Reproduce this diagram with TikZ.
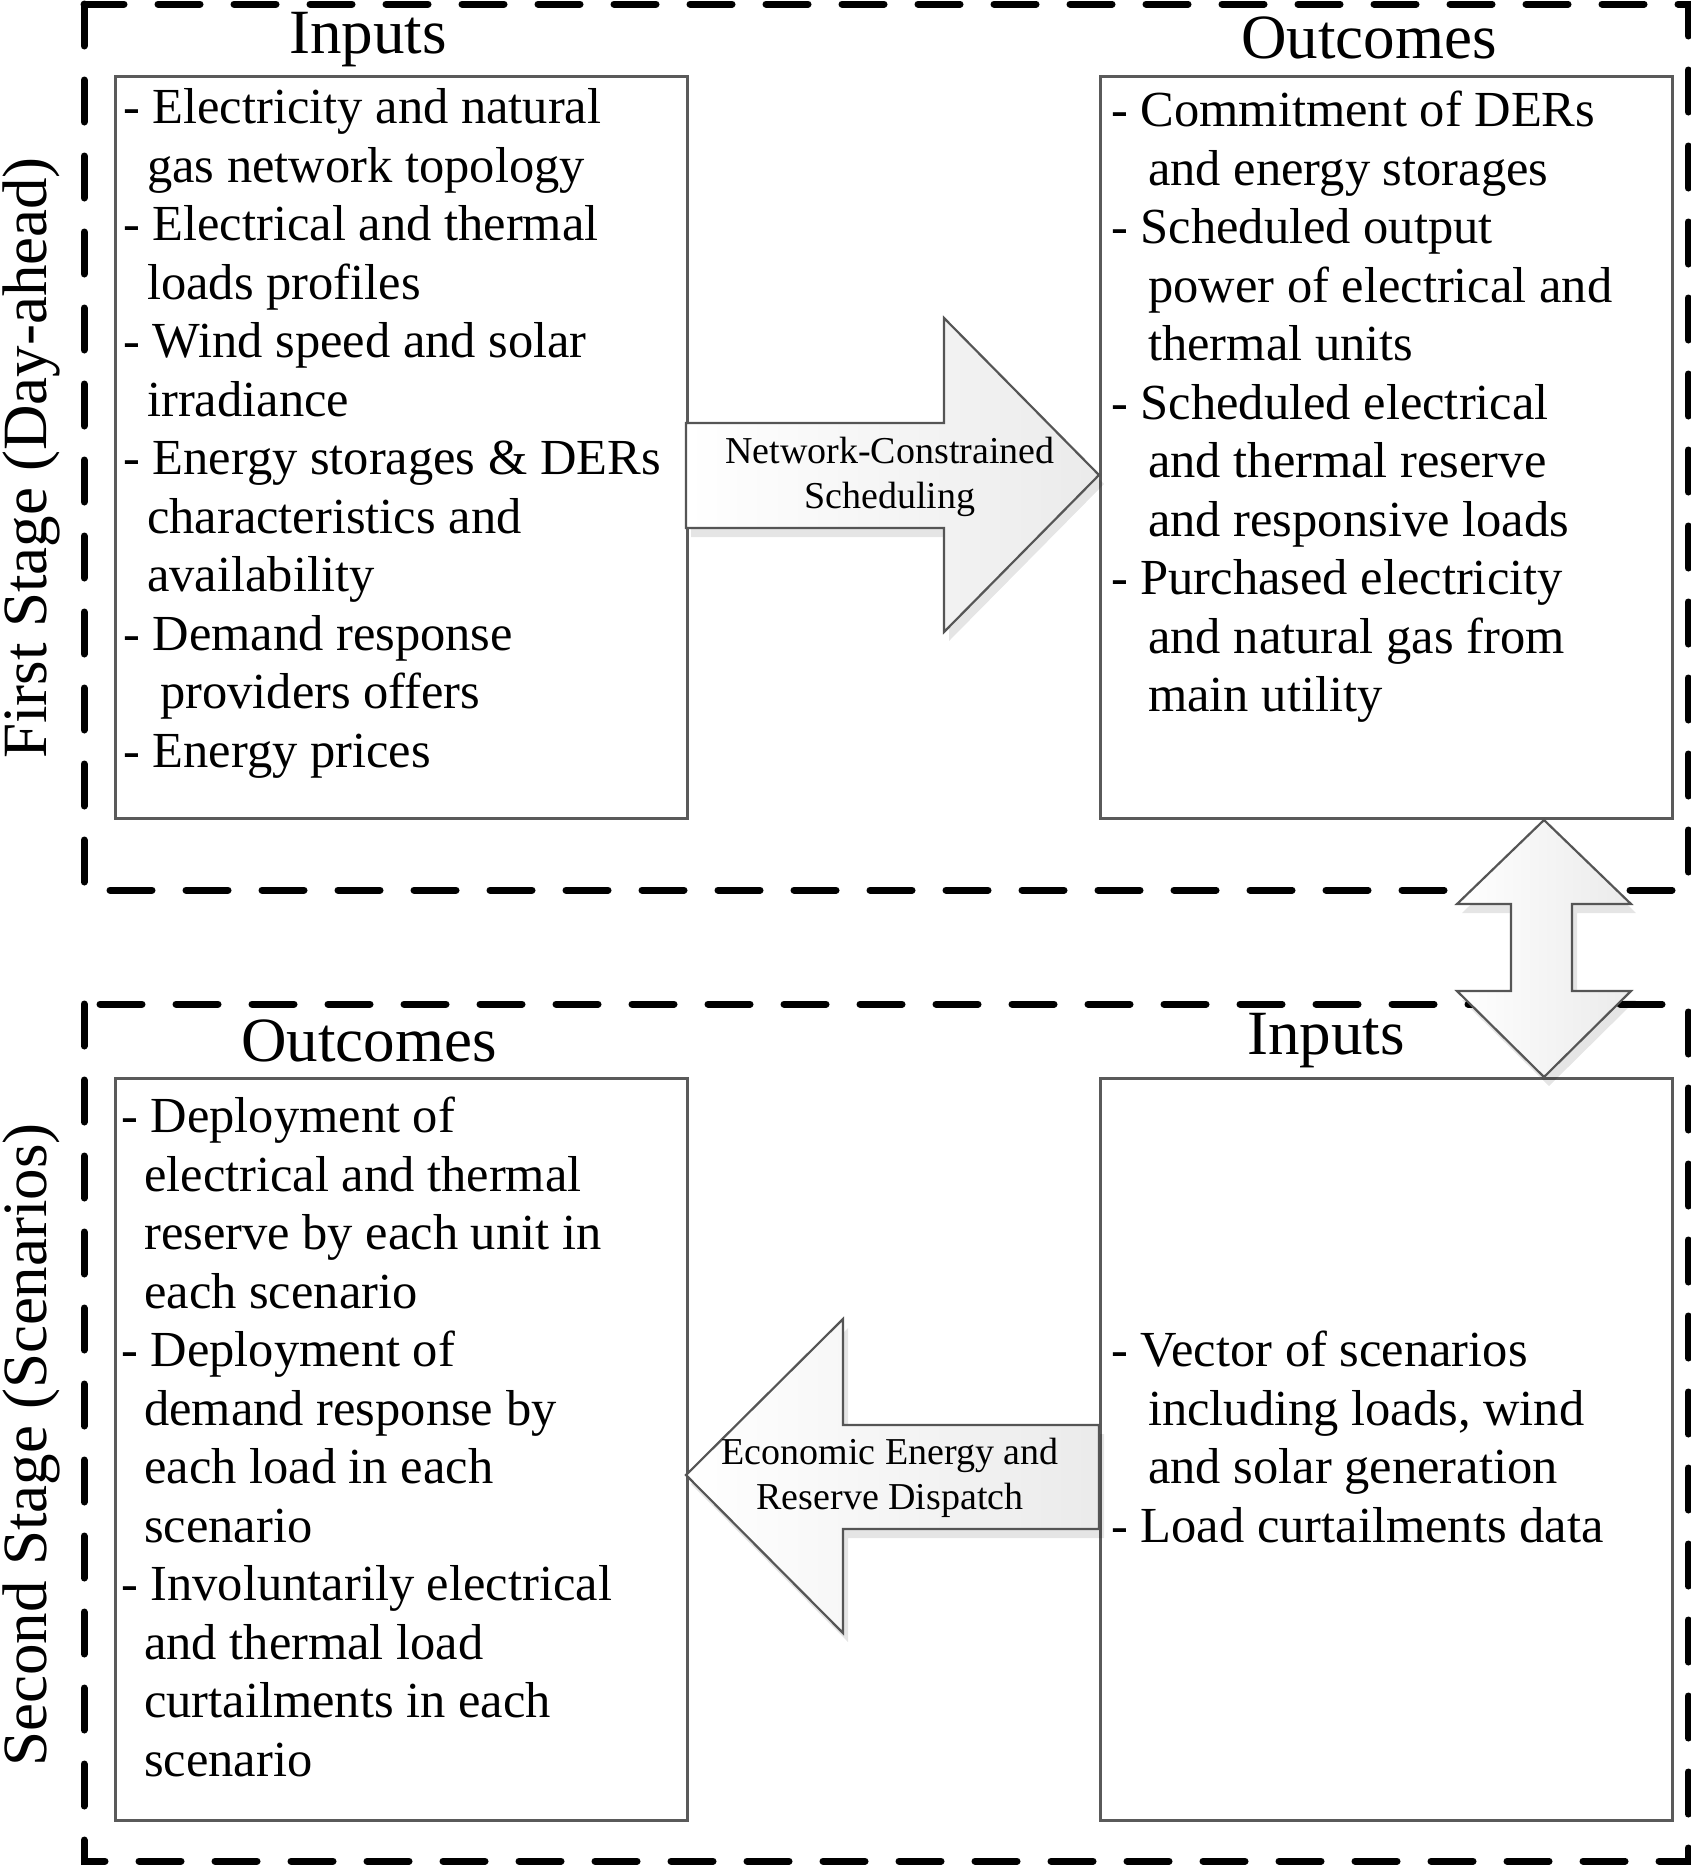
\documentclass[tikz,border=0pt]{standalone}
\usepackage{fontspec}
\setmainfont{Liberation Serif}
\usetikzlibrary{calc}
\definecolor{boxgray}{RGB}{90,90,90}
\definecolor{arrowgray}{RGB}{85,85,85}

\begin{document}
\begin{tikzpicture}[x=1pt,y=-1pt,
    stageframe/.style={line width=7pt,dash pattern=on 42pt off 34pt,line cap=round},
    listbox/.style={draw=boxgray,line width=2.5pt,fill=white,anchor=north west,
      minimum width=572pt,minimum height=742pt,inner sep=0},
    itemtext/.style={anchor=base west,inner sep=0,font=\fontsize{50.5}{58.5}\selectfont},
    boxtitle/.style={anchor=base,inner sep=0,font=\fontsize{63}{70}\selectfont},
    stagelabel/.style={anchor=base,inner sep=0,rotate=90,font=\fontsize{63}{70}\selectfont},
    blockarrow/.style={draw=arrowgray,line width=2.2pt,left color=white,right color=black!8},
    arrowshadow/.style={fill=black,opacity=.1},
    arrowlabel/.style={align=center,inner sep=0,font=\fontsize{38}{45}\selectfont}]
        \useasboundingbox (0,0) rectangle (1690,1866);
        % stages
        \draw[stageframe] (84,4) rectangle (1688,890);
        \draw[stageframe] (84,1004) rectangle (1688,1861);
        \node[stagelabel] (stage1) at (46,458) {First Stage (Day-ahead)};
        \node[stagelabel] (stage2) at (46,1445) {Second Stage (Scenarios)};
        % boxes and titles
        \node[listbox] (inT) at (114,75) {};
        \node[listbox] (outT) at (1099,75) {};
        \node[listbox] (outB) at (114,1077) {};
        \node[listbox] (inB) at (1099,1077) {};
        \node[boxtitle] (inTtitle) at (368,53) {Inputs};
        \node[boxtitle] (outTtitle) at (1369,58) {Outcomes};
        \node[boxtitle] (outBtitle) at (369,1061) {Outcomes};
        \node[boxtitle] (inBtitle) at (1326,1054) {Inputs};
        % lists
        \foreach \dx/\txt [count=\i] in {0/{- Electricity and natural},24/{gas network topology},
            0/{- Electrical and thermal},24/{loads profiles},0/{- Wind speed and solar},24/{irradiance},
            0/{- Energy storages \& DERs},24/{characteristics and},24/{availability},
            0/{- Demand response},37/{providers offers},0/{- Energy prices}}
          \node[itemtext] (inT-\i) at (123+\dx,123.5+58.5*\i-58.5) {\txt};
        \foreach \dx/\txt [count=\i] in {0/{- Commitment of DERs},37/{and energy storages},
            0/{- Scheduled output},37/{power of electrical and},37/{thermal units},
            0/{- Scheduled electrical},37/{and thermal reserve},37/{and responsive loads},
            0/{- Purchased electricity},37/{and natural gas from},37/{main utility}}
          \node[itemtext] (outT-\i) at (1111+\dx,126.5+58.5*\i-58.5) {\txt};
        \foreach \dx/\txt [count=\i] in {0/{- Deployment of},23/{electrical and thermal},
            23/{reserve by each unit in},23/{each scenario},0/{- Deployment of},
            23/{demand response by},23/{each load in each},23/{scenario},
            0/{- Involuntarily electrical},23/{and thermal load},23/{curtailments in each},23/{scenario}}
          \node[itemtext] (outB-\i) at (121+\dx,1132.5+58.5*\i-58.5) {\txt};
        \foreach \dx/\txt [count=\i] in {0/{- Vector of scenarios},37/{including loads, wind},
            37/{and solar generation},0/{- Load curtailments data}}
          \node[itemtext] (inB-\i) at (1111+\dx,1366.5+58.5*\i-58.5) {\txt};
        % block arrows
        \fill[arrowshadow,shift={(5,9)}] (686,423)--(944,423)--(944,318)--(1099,475)--(944,632)--(944,528)--(686,528)--cycle;
        \path[blockarrow] (686,423)--(944,423)--(944,318)--(1099,475)--(944,632)--(944,528)--(686,528)--cycle;
        \node[arrowlabel] (schedlbl) at (890,476.5) {Network-Constrained\\Scheduling};
        \fill[arrowshadow,shift={(5,9)}] (1099,1425)--(843,1425)--(843,1319)--(686,1475)--(843,1633)--(843,1529)--(1099,1529)--cycle;
        \path[blockarrow] (1099,1425)--(843,1425)--(843,1319)--(686,1475)--(843,1633)--(843,1529)--(1099,1529)--cycle;
        \node[arrowlabel] (displbl) at (890,1477.5) {Economic Energy and\\Reserve Dispatch};
        \fill[arrowshadow,shift={(5,9)}] (1544,820)--(1631,904)--(1572,904)--(1572,991)--(1631,991)--(1544,1077)--(1457,991)--(1511,991)--(1511,904)--(1457,904)--cycle;
        \path[blockarrow] (1544,820)--(1631,904)--(1572,904)--(1572,991)--(1631,991)--(1544,1077)--(1457,991)--(1511,991)--(1511,904)--(1457,904)--cycle;
\end{tikzpicture}
\end{document}
